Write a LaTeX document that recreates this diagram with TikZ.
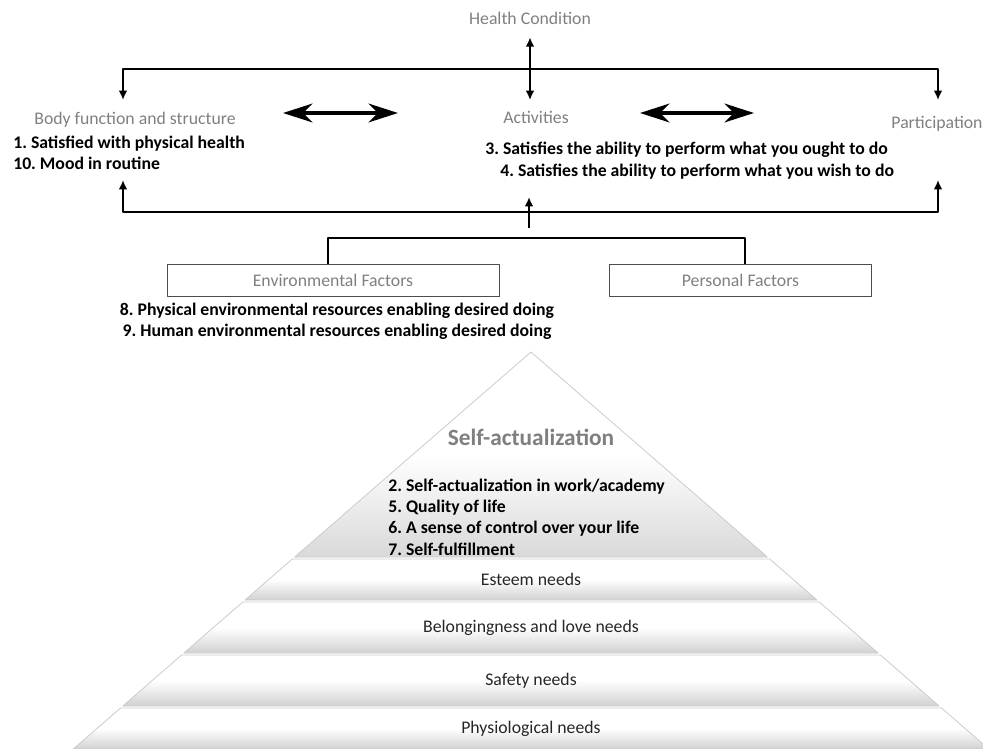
\documentclass[tikz,border=0pt]{standalone}
\usepackage{fontspec}
\setmainfont{Carlito}
\usetikzlibrary{arrows.meta}
\definecolor{lblgray}{HTML}{7F7F7F}
\definecolor{txtdark}{HTML}{262626}
\frenchspacing
\begin{document}
\begin{tikzpicture}[x=0.75pt,y=-0.75pt,line join=round,
  >={Latex[length=7pt,width=6.5pt]},
  lbl/.style={text=lblgray,font=\fontsize{13.3}{16}\selectfont,inner sep=0pt,text height=9pt,text depth=3pt},
  itm/.style={font=\fontsize{13.3}{15.5}\selectfont\bfseries,inner sep=0pt},
  pitm/.style={font=\fontsize{13.3}{16}\selectfont\bfseries,inner sep=0pt},
  need/.style={text=txtdark,font=\fontsize{13.3}{16}\selectfont,inner sep=0pt},
  conn/.style={line width=2pt},
  dbl/.style={line width=3.4pt,{Stealth[length=22pt,width=14pt,inset=7pt]}-{Stealth[length=22pt,width=14pt,inset=7pt]}},
  fbox/.style={draw=black!70,line width=0.75pt,minimum width=#1,minimum height=24pt,inner sep=0pt,
    text=lblgray,font=\fontsize{13.3}{16}\selectfont},
  band/.style={draw=black!20,line width=0.6pt,top color=white,bottom color=black!18,middle color=white}]
\useasboundingbox (0,0) rectangle (983,749);

% ICF part
\node[lbl] (hc) at (530,21) {Health Condition};
\node[lbl] (act) at (536,119) {Activities};
\node[lbl] (body) at (135,121) {Body function and structure};
\node[lbl] (part) at (937,124) {Participation};
\node[itm,anchor=west,align=left] (bodyitm) at (13,153) {1. Satisfied with physical health\\10. Mood in routine};
\node[itm,anchor=west] (act3) at (485,150) {3. Satisfies the ability to perform what you ought to do};
\node[itm,anchor=west] (act4) at (500,172) {4. Satisfies the ability to perform what you wish to do};
\node[fbox=249pt] (env) at (333,280) {Environmental Factors};
\node[fbox=197pt] (pers) at (740.5,280) {Personal Factors};
\node[itm,align=center] (envitm) at (337,321.5) {8. Physical environmental resources enabling desired doing\\9. Human environmental resources enabling desired doing};

\coordinate (btop) at (123,100);
\coordinate (ptop) at (938,100);
\coordinate (topbar) at (529,69);
\coordinate (bbot) at (123,180);
\coordinate (pbot) at (938,180);
\coordinate (botbar) at (529,212);
\coordinate (fbase) at (529,228);
\coordinate (ftip) at (529,197);
\coordinate (fl) at (328,238);
\coordinate (fr) at (745,238);
\coordinate (ba1) at (283,113);
\coordinate (ba2) at (398,113);
\coordinate (aa1) at (640,113);
\coordinate (aa2) at (754,113);

\draw[conn,<->,shorten <=6pt,shorten >=8pt] (hc.south) -- (hc.south |- act.north);
\draw[conn,<->] (btop) |- (topbar) -| (ptop);
\draw[conn,<->] (bbot) |- (botbar) -| (pbot);
\draw[conn,->] (fbase) -- (ftip);
\draw[conn] (env.north -| fl) -- (fl) -- (fr) -- (pers.north -| fr);
\draw[dbl] (ba1) -- (ba2);
\draw[dbl] (aa1) -- (aa2);

% pyramid
\shadedraw[band,bottom color=black!15,middle color=white] (531,352) -- ({531+205*1.153},557) -- ({531-205*1.153},557) -- cycle;
\node[text=lblgray,font=\fontsize{17.5}{20}\selectfont\bfseries,inner sep=0pt] (selfact) at (531,437) {Self-actualization};
\node[pitm,anchor=west,align=left] (selfitm) at (388,517) {2. Self-actualization in work/academy\\5. Quality of life\\6. A sense of control over your life\\7. Self-fulfillment};
\foreach \ya/\yb/\txt [count=\i] in {559/600/Esteem needs,602/653/Belongingness and love needs,655/706/Safety needs,708/749/Physiological needs}{
  \shadedraw[band] ({531-(\ya-352)*1.153},\ya) -- ({531+(\ya-352)*1.153},\ya)
    -- ({531+(\yb-352)*1.153},\yb) -- ({531-(\yb-352)*1.153},\yb) -- cycle;
  \node[need] (need\i) at (531,{(\ya+\yb)/2}) {\txt};
}
\end{tikzpicture}
\end{document}
